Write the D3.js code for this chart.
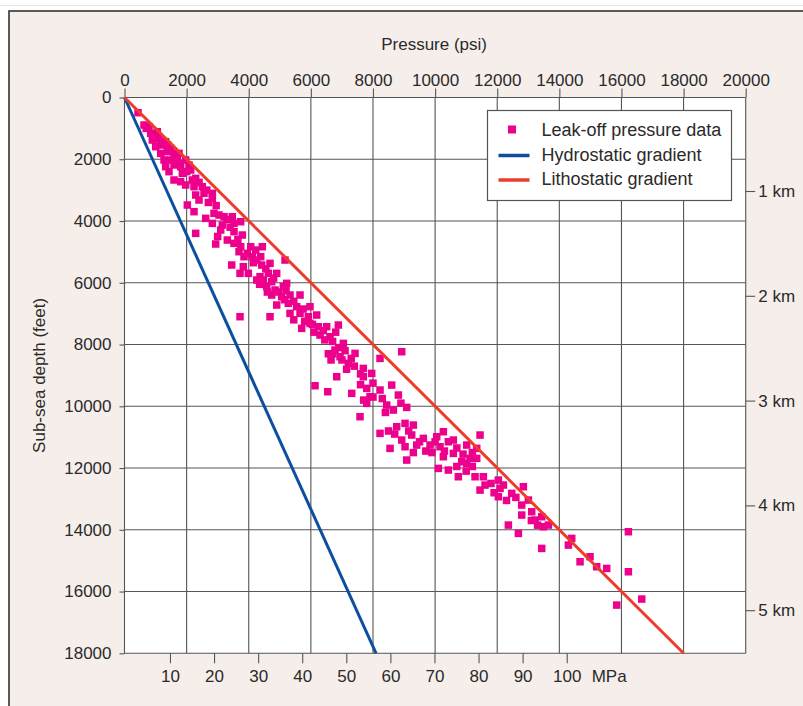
<!DOCTYPE html>
<html>
<head>
<meta charset="utf-8">
<script src="https://cdn.jsdelivr.net/npm/d3@7/dist/d3.min.js"></script>
<style>
  html, body { margin: 0; padding: 0; background: #ffffff; }
  svg { display: block; }
  text { font-family: "Liberation Sans", Arial, Helvetica, sans-serif; fill: #2a2a2a; }
</style>
</head>
<body>
<svg id="chart" width="803" height="706"></svg>
<script>
// ---------- data ----------
const psiTicks = [0, 2000, 4000, 6000, 8000, 10000, 12000, 14000, 16000, 18000, 20000];
const depthTicks = [0, 2000, 4000, 6000, 8000, 10000, 12000, 14000, 16000, 18000];
const mpaTicks = [10, 20, 30, 40, 50, 60, 70, 80, 90, 100];
const kmTicks = [1, 2, 3, 4, 5];

const hydroPsi = [0, 8100];
const hydroDepth = [0, 18000];
const lithoPsi = [0, 18000];
const lithoDepth = [0, 18000];

// leak-off pressure (psi) and depth (ft)
const leakPsi = [
  435, 628, 789, 843, 1057, 896, 1111, 1326, 1004, 1218, 1487, 1165, 1379, 1594, 1755, 1272, 1487, 1701, 1970, 1326,
  1594, 1809, 2077, 1433, 1862, 2131, 1594, 1809, 2184, 2292, 1970, 2238, 2506, 2292, 2560, 2828, 2023, 2399, 2828, 2238,
  2882, 3043, 2614, 3204, 3472, 2828, 3150, 3526, 3741, 2292, 3097, 3526, 3311, 3794, 2936, 3526, 3741, 4063, 4438, 3687,
  3955, 4224, 3848, 4116, 4385,
  5168, 3451, 3826, 3719, 3987, 4256, 4417, 4685, 4363, 4631, 4900, 4256, 4470, 4739, 4578, 4846, 5114, 5221, 4739, 5061,
  5329, 5651, 4900, 5275, 5543, 5972, 4685, 3719, 5329, 5651, 5919, 6187, 5704, 5972, 6241, 6509, 6885, 6295, 6617, 6563,
  6778, 7046, 6939, 7207, 7422, 8227, 8925, 6832, 7690, 7959, 7690, 7315, 7798, 7905, 7798, 8227, 8603, 8817, 8442, 8656,
  9086, 7583, 8227, 8549, 9086, 8764, 9032, 9300, 8925, 9247, 9408, 9032, 9622, 9837, 10052, 6134, 6543, 6700, 6900, 7100, 6650,
  10266, 10159, 10427, 10588, 11018, 11447, 11340, 10266, 10588, 10857, 11125, 11340, 10105, 10427, 10749, 11018, 11286, 11554, 11608,
  11447, 12037, 12091, 12037, 12467, 12842, 12788, 13003, 12788, 13111, 13218, 13433, 13648, 13486, 12359, 12681, 13433, 14399, 14291, 14667,
  14989, 15203, 15525, 16223, 16223, 15847, 16653,
  4150, 4550, 4800, 4350, 4950, 5200, 4600, 5150, 5450, 5750, 5450, 5800, 6050, 6100, 6400, 6800,
  6450, 6700, 7000, 7300, 7150, 7400, 7600, 7600, 8000, 7700, 8000, 8300, 8400, 8900,
  8500, 8700, 9150, 9500, 9700, 9300, 9900, 10000, 10300, 10700, 10900, 11200, 10700, 11000, 11200,
  11800, 11900, 12300, 12200, 12600, 13100, 13300,
  700, 950, 1150, 1400, 1650, 1750, 2000, 2400, 2650, 2700, 2950, 3300, 3400, 3000, 3650
];
const leakDepth = [
  491, 891, 945, 1161, 1107, 1377, 1323, 1431, 1593, 1539, 1647, 1809, 1755, 1809, 1809, 2024, 2024, 1970, 2024, 2240,
  2186, 2240, 2186, 2402, 2456, 2348, 2672, 2726, 2672, 2618, 2834, 2888, 2888, 3158, 3104, 3104, 3482, 3320, 3266, 3698,
  3752, 3806, 3914, 3860, 3860, 4076, 4130, 4076, 4022, 4400, 4292, 4346, 4616, 4454, 4745, 4724, 4832, 4832, 4832, 4994,
  5048, 4940, 5156, 5156, 5156,
  5264, 5425, 5479, 5695, 5695, 5264, 5426, 5372, 5804, 5696, 5696, 5911, 5911, 5965, 6127, 6235, 6127, 6019, 6397, 6451,
  6397, 6397, 6721, 6667, 6775, 6775, 7099, 7099, 6991, 6991, 7099, 7045, 7477, 7315, 7423, 7423, 7369, 7693, 7747, 8300,
  8179, 7963, 8395, 8611, 8287, 8449, 8233, 9043, 8773, 8935, 9043, 9582, 9420, 9690, 9906, 9474, 9313, 9636, 9960, 10122,
  10036, 10338, 10878, 11364, 11742, 10662, 10554, 10608, 11094, 10932, 11256, 11310, 11040, 11256, 10986, 9335, 9529, 7900, 8100, 8200, 8500,
  10824, 11310, 11148, 11094, 11256, 10932, 11364, 11634, 11526, 11796, 11688, 11688, 12012, 12066, 12282, 11850, 12282, 12282, 12552,
  12714, 12390, 12660, 12929, 12821, 12605, 13199, 13037, 13523, 13415, 13685, 13577, 13847, 13901, 13847, 14117, 14603, 14279, 14495, 15035,
  14873, 15197, 15251, 14063, 15359, 16438, 16244,
  5350, 5550, 5850, 6050, 6300, 6250, 6300, 6550, 6600, 6850, 7200, 7250, 7350, 7600, 7550, 7600,
  7850, 8300, 8500, 8450, 8800, 8700, 8950, 9300, 9250, 9800, 9700, 9750, 10200, 9900,
  10800, 10900, 10800, 11150, 11450, 11500, 11500, 11150, 11450, 11350, 11550, 11500, 11950, 12100, 11950,
  12500, 12800, 13050, 12550, 12950, 13700, 13850,
  1000, 1250, 1450, 1550, 1950, 2150, 2400, 2750, 3000, 3400, 3500, 3950, 4200, 4500, 4600
];

const legendLabels = ["Leak-off pressure data", "Hydrostatic gradient", "Lithostatic gradient"];

// ---------- colours ----------
const C_BG = "#f6eeea";
const C_GRID = "#555555";
const C_PTS = "#ec008c";
const C_HYDRO = "#0d4f9f";
const C_LITHO = "#ee3b2c";

// ---------- layout ----------
const svg = d3.select("#chart");
const x = d3.scaleLinear().domain([0, 20000]).range([124.5, 745.7]);
const y = d3.scaleLinear().domain([0, 18000]).range([97.5, 653.3]);
const xMPa = d3.scaleLinear().domain([0, 100]).range([125.9, 566.7]);
const yKm = d3.scaleLinear().domain([0, 5]).range([86.2, 610.2]);

// outer frame
svg.append("rect").attr("x", 9).attr("y", 11).attr("width", 820).attr("height", 720)
  .attr("fill", C_BG).attr("stroke", "#333").attr("stroke-width", 1.6);
svg.append("line").attr("x1", 0).attr("x2", 803).attr("y1", 5.5).attr("y2", 5.5)
  .attr("stroke", "#e6e6e6").attr("stroke-width", 1);

// plot area
svg.append("rect").attr("x", x(0)).attr("y", y(0))
  .attr("width", x(20000) - x(0)).attr("height", y(18000) - y(0))
  .attr("fill", "#ffffff");

// grid
const grid = svg.append("g").attr("stroke", C_GRID).attr("stroke-width", 1.1);
grid.selectAll("line.v").data(psiTicks).join("line").attr("class", "v")
  .attr("x1", d => x(d)).attr("x2", d => x(d)).attr("y1", y(0)).attr("y2", y(18000));
grid.selectAll("line.h").data(depthTicks).join("line").attr("class", "h")
  .attr("y1", d => y(d)).attr("y2", d => y(d)).attr("x1", x(0)).attr("x2", x(20000));

function styleAxis(g, size) {
  g.select(".domain").remove();
  g.selectAll(".tick line").attr("stroke", C_GRID).attr("stroke-width", 1.1);
  g.selectAll(".tick text").attr("fill", "#2a2a2a")
    .style("font-family", '"Liberation Sans", Arial, sans-serif').style("font-size", size + "px");
}

// top axis (psi)
svg.append("g").attr("transform", `translate(0,${y(0)})`)
  .call(d3.axisTop(x).tickValues(psiTicks).tickSize(9).tickPadding(2.5).tickFormat(d3.format("d")))
  .call(g => styleAxis(g, 17));

// left axis (ft)
svg.append("g").attr("transform", `translate(${x(0)},0)`)
  .call(d3.axisLeft(y).tickValues(depthTicks).tickSize(5).tickPadding(8).tickFormat(d3.format("d")))
  .call(g => styleAxis(g, 17));

// bottom axis (MPa)
svg.append("g").attr("transform", `translate(0,${y(18000)})`)
  .call(d3.axisBottom(xMPa).tickValues(mpaTicks).tickSize(10).tickPadding(6.5))
  .call(g => styleAxis(g, 17));
svg.append("text").attr("x", xMPa(100) + 25).attr("y", y(18000) + 29)
  .style("font-size", "17px").text("MPa");

// right axis (km)
svg.append("g").attr("transform", `translate(${x(20000)},0)`)
  .call(d3.axisRight(yKm).tickValues(kmTicks).tickSize(9.5).tickPadding(3).tickFormat(d => d + " km"))
  .call(g => styleAxis(g, 17));

// axis titles
svg.append("text").attr("x", (x(0) + x(20000)) / 2 - 1).attr("y", 50)
  .attr("text-anchor", "middle").style("font-size", "17px").text("Pressure (psi)");
svg.append("text").attr("transform", `translate(45,${(y(0) + y(18000)) / 2}) rotate(-90)`)
  .attr("text-anchor", "middle").style("font-size", "17px").text("Sub-sea depth (feet)");

// leak-off points
const S = 7.5;
svg.append("g").selectAll("rect").data(leakPsi.map((p, i) => [p, leakDepth[i]])).join("rect")
  .attr("x", d => x(d[0]) - S / 2).attr("y", d => y(d[1]) - S / 2)
  .attr("width", S).attr("height", S).attr("fill", C_PTS);

// gradient lines
const line = d3.line().x(d => x(d[0])).y(d => y(d[1]));
svg.append("path").datum(hydroPsi.map((p, i) => [p, hydroDepth[i]]))
  .attr("d", line).attr("fill", "none").attr("stroke", C_HYDRO).attr("stroke-width", 3);
svg.append("path").datum(lithoPsi.map((p, i) => [p, lithoDepth[i]]))
  .attr("d", line).attr("fill", "none").attr("stroke", C_LITHO).attr("stroke-width", 3);

// legend
const lg = svg.append("g").attr("transform", "translate(487.5,110.5)");
lg.append("rect").attr("width", 244).attr("height", 90).attr("fill", "#fff")
  .attr("stroke", C_GRID).attr("stroke-width", 1.2);
legendLabels.forEach((lab, i) => {
  const cy = 19 + i * 24.5;
  if (i === 0) {
    lg.append("rect").attr("x", 20.5).attr("y", cy - 4).attr("width", 8).attr("height", 8).attr("fill", C_PTS);
  } else {
    lg.append("line").attr("x1", 11).attr("x2", 42).attr("y1", cy + 1.5).attr("y2", cy + 1.5)
      .attr("stroke", i === 1 ? C_HYDRO : C_LITHO).attr("stroke-width", 3.5);
  }
  lg.append("text").attr("x", 54).attr("y", cy + 6.5).style("font-size", "18px").text(lab);
});
</script>
</body>
</html>
